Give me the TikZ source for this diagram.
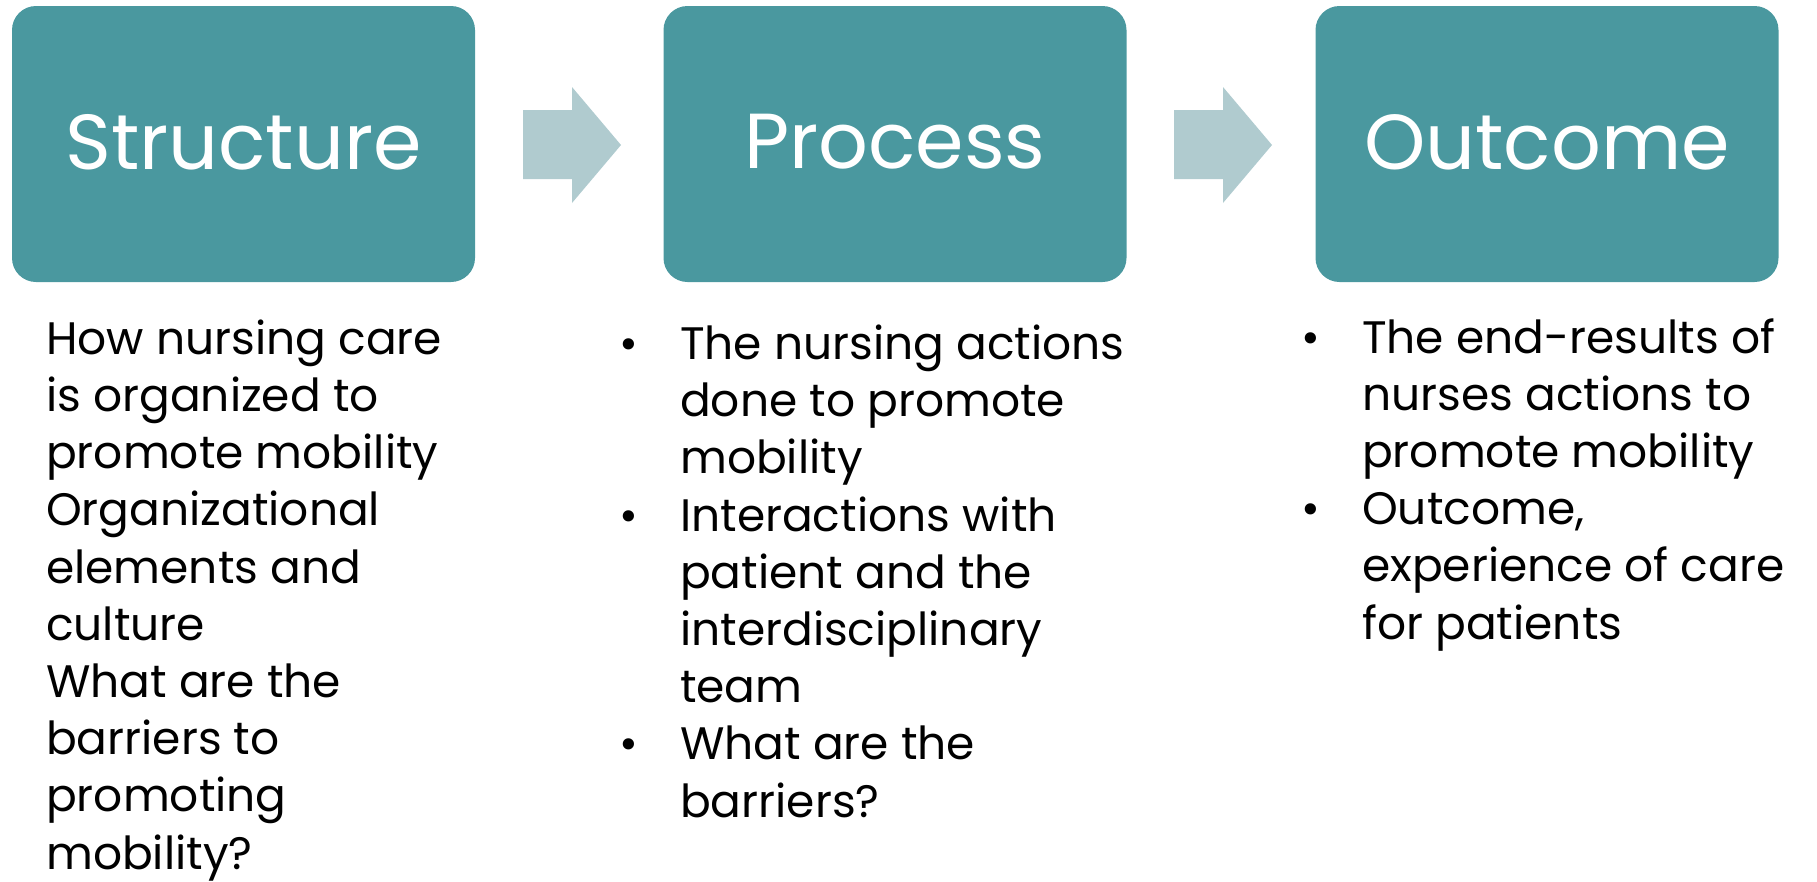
\documentclass[tikz,border=0pt]{standalone}
\usepackage{fontspec}
\setmainfont{Poppins}
\definecolor{boxteal}{HTML}{4A989F}
\definecolor{arrowgray}{HTML}{B0CBCF}
\tikzset{
  stagebox/.style={fill=boxteal, draw=none, rounded corners=24pt, minimum width=463pt, minimum height=276pt, inner sep=0pt},
  stagetitle/.style={text=white, font=\fontsize{78}{94}\selectfont, inner sep=0pt},
  bodytext/.style={align=left, inner sep=0pt, anchor=base west, font=\fontsize{45.5}{57.2}\selectfont, text=black},
  flowarrow/.style={fill=arrowgray, draw=none}
}
\newcommand{\bul}{\makebox[61pt][l]{\textbullet}}
\newcommand{\edgebul}{\makebox[61pt][l]{\hspace*{-1pt}\textbullet}}
\newcommand{\ind}{\hspace*{61pt}}
\begin{document}
\begin{tikzpicture}[x=1pt,y=-1pt]
\useasboundingbox (0,0) rectangle (1817,881);
\node[stagebox] (s) at (243.5,144) {};
\node[stagebox] (p) at (895,144) {};
\node[stagebox] (o) at (1547,144) {};
\node[stagetitle] (st) at (243.5,142) {Structure};
\node[stagetitle] (pt) at (895,142) {Process};
\node[stagetitle] (ot) at (1547,142) {Outcome};
% arrows
\fill[flowarrow] (523,110) -- (572,110) -- (572,87) -- (621,145) -- (572,203) -- (572,179) -- (523,179) -- cycle;
\fill[flowarrow] (1174,110) -- (1223,110) -- (1223,87) -- (1272,145) -- (1223,203) -- (1223,179) -- (1174,179) -- cycle;
\node[bodytext] (sb) at (-15,869) {\edgebul How nursing care\\\ind is organized to\\\ind promote mobility\\\edgebul Organizational\\\ind elements and\\\ind culture\\\edgebul What are the\\\ind barriers to\\\ind promoting\\\ind mobility?};
\node[bodytext] (pb) at (619,817) {\bul The nursing actions\\\ind done to promote\\\ind mobility\\\bul Interactions with\\\ind patient and the\\\ind interdisciplinary\\\ind team\\\bul What are the\\\ind barriers?};
\node[bodytext] (ob) at (1301,639) {\bul The end-results of\\\ind nurses actions to\\\ind promote mobility\\\bul Outcome,\\\ind experience of care\\\ind for patients};
\end{tikzpicture}
\end{document}
